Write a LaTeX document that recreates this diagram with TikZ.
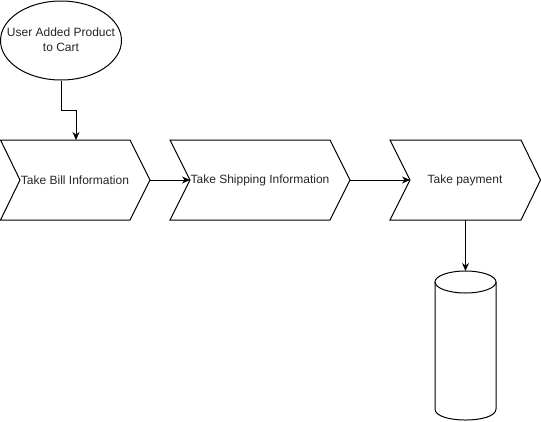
\documentclass[tikz,border=0pt]{standalone}
\usepackage{fontspec}
\setmainfont{Liberation Sans}
\usetikzlibrary{arrows.meta,shapes.geometric}
\begin{document}
\begin{tikzpicture}[x=1pt,y=-1pt,
  shape line/.style={draw=black,line width=1pt,line join=miter},
  label text/.style={font=\fontsize{12}{15}\selectfont,text=black!85,align=center,inner sep=0pt},
  arr/.style={draw=black,line width=1pt,-{Stealth[length=8pt,width=7pt]}}]
  \useasboundingbox (0,0) rectangle (541,421);
  \fill[white] (0,0) rectangle (541,421);

  % start event
  \node[ellipse,shape line,minimum width=121pt,minimum height=79pt,inner sep=0pt]
    (start) at (61,40.5) {};
  \node[label text] (starttext) at (61,40) {User Added Product\\to Cart};

  % process chevrons: left x, right x (tip), notch depth 20, top 140, bottom 220
  \draw[shape line] (0.5,140) -- (130,140) -- (150,180) -- (130,220) -- (0.5,220) -- (20,180) -- cycle;
  \draw[shape line] (170,140) -- (330,140) -- (350,180) -- (330,220) -- (170,220) -- (190,180) -- cycle;
  \draw[shape line] (390,140) -- (521,140) -- (540.5,180) -- (521,220) -- (390,220) -- (410,180) -- cycle;

  \node[label text] (bill) at (75,180) {Take Bill Information};
  \node[label text] (ship) at (260,180) {Take Shipping Information};
  \node[label text] (pay) at (465,180) {Take payment};

  \coordinate (billtop) at (76,140);
  \coordinate (billtip) at (150,180);
  \coordinate (shipnotch) at (190,180);
  \coordinate (shiptip) at (350,180);
  \coordinate (paynotch) at (410,180);
  \coordinate (paybottom) at (465.5,220);

  % data store
  \draw[shape line] (435,282) -- (435,409) .. controls (435,423.7) and (496,423.7) .. (496,409) -- (496,282);
  \draw[shape line] (465.5,282) ellipse [x radius=30.5, y radius=11];
  \coordinate (storetop) at (465.5,271);

  % connectors
  \draw[arr] (start.south) -- (61,110) -| (billtop);
  \draw[arr] (billtip) -- (shipnotch);
  \draw[arr] (shiptip) -- (paynotch);
  \draw[arr] (paybottom) -- (storetop);
\end{tikzpicture}
\end{document}
